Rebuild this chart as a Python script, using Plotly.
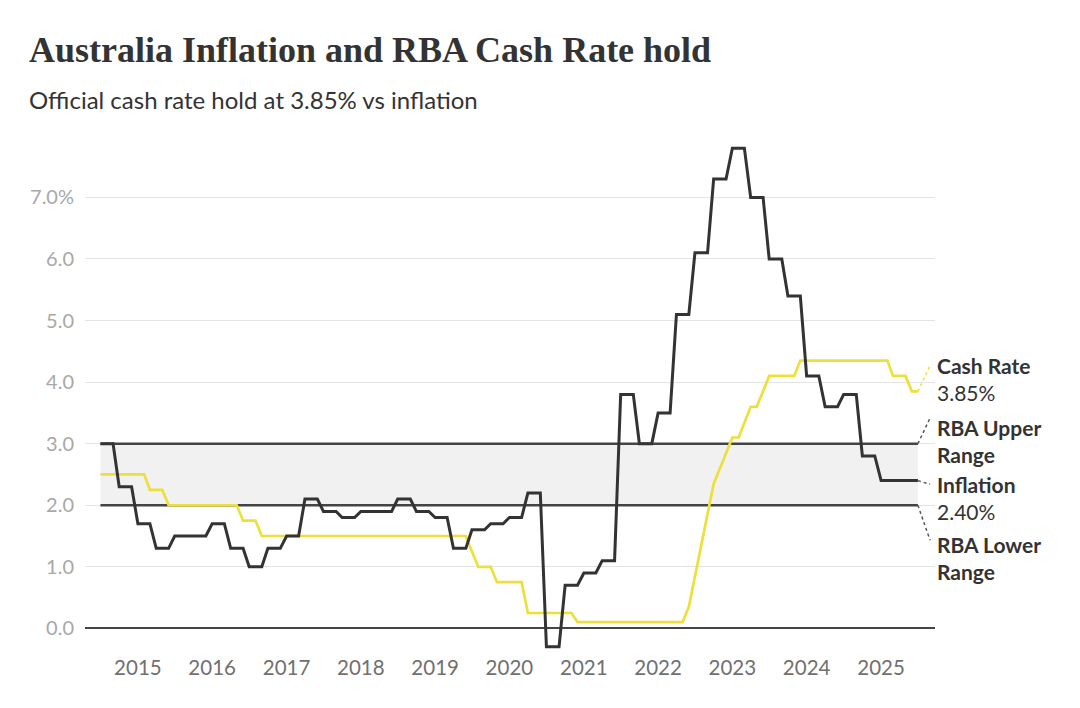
import pandas as pd
import plotly.graph_objects as go

# ---- data -------------------------------------------------------------
months = pd.date_range("2014-07-01", "2025-07-01", freq="MS")

inflation = [
    3.0, 3.0, 3.0, 2.3, 2.3, 2.3,                                   # 2014 Jul-Dec
    1.7, 1.7, 1.7, 1.3, 1.3, 1.3, 1.5, 1.5, 1.5, 1.5, 1.5, 1.5,     # 2015
    1.7, 1.7, 1.7, 1.3, 1.3, 1.3, 1.0, 1.0, 1.0, 1.3, 1.3, 1.3,     # 2016
    1.5, 1.5, 1.5, 2.1, 2.1, 2.1, 1.9, 1.9, 1.9, 1.8, 1.8, 1.8,     # 2017
    1.9, 1.9, 1.9, 1.9, 1.9, 1.9, 2.1, 2.1, 2.1, 1.9, 1.9, 1.9,     # 2018
    1.8, 1.8, 1.8, 1.3, 1.3, 1.3, 1.6, 1.6, 1.6, 1.7, 1.7, 1.7,     # 2019
    1.8, 1.8, 1.8, 2.2, 2.2, 2.2, -0.3, -0.3, -0.3, 0.7, 0.7, 0.7,  # 2020
    0.9, 0.9, 0.9, 1.1, 1.1, 1.1, 3.8, 3.8, 3.8, 3.0, 3.0, 3.0,     # 2021
    3.5, 3.5, 3.5, 5.1, 5.1, 5.1, 6.1, 6.1, 6.1, 7.3, 7.3, 7.3,     # 2022
    7.8, 7.8, 7.8, 7.0, 7.0, 7.0, 6.0, 6.0, 6.0, 5.4, 5.4, 5.4,     # 2023
    4.1, 4.1, 4.1, 3.6, 3.6, 3.6, 3.8, 3.8, 3.8, 2.8, 2.8, 2.8,     # 2024
    2.4, 2.4, 2.4, 2.4, 2.4, 2.4, 2.4,                              # 2025 Jan-Jul
]

cash_rate = [
    2.5, 2.5, 2.5, 2.5, 2.5, 2.5,                                               # 2014 Jul-Dec
    2.5, 2.5, 2.25, 2.25, 2.25, 2.0, 2.0, 2.0, 2.0, 2.0, 2.0, 2.0,              # 2015
    2.0, 2.0, 2.0, 2.0, 2.0, 1.75, 1.75, 1.75, 1.5, 1.5, 1.5, 1.5,              # 2016
    1.5, 1.5, 1.5, 1.5, 1.5, 1.5, 1.5, 1.5, 1.5, 1.5, 1.5, 1.5,                 # 2017
    1.5, 1.5, 1.5, 1.5, 1.5, 1.5, 1.5, 1.5, 1.5, 1.5, 1.5, 1.5,                 # 2018
    1.5, 1.5, 1.5, 1.5, 1.5, 1.5, 1.25, 1.0, 1.0, 1.0, 0.75, 0.75,              # 2019
    0.75, 0.75, 0.75, 0.25, 0.25, 0.25, 0.25, 0.25, 0.25, 0.25, 0.25, 0.1,      # 2020
    0.1, 0.1, 0.1, 0.1, 0.1, 0.1, 0.1, 0.1, 0.1, 0.1, 0.1, 0.1,                 # 2021
    0.1, 0.1, 0.1, 0.1, 0.1, 0.35, 0.85, 1.35, 1.85, 2.35, 2.6, 2.85,           # 2022
    3.1, 3.1, 3.35, 3.6, 3.6, 3.85, 4.1, 4.1, 4.1, 4.1, 4.1, 4.35,              # 2023
    4.35, 4.35, 4.35, 4.35, 4.35, 4.35, 4.35, 4.35, 4.35, 4.35, 4.35, 4.35,     # 2024
    4.35, 4.35, 4.1, 4.1, 4.1, 3.85, 3.85,                                      # 2025 Jan-Jul
]

rba_lower = 2.0
rba_upper = 3.0

year_ticks = [f"{y}-01-01" for y in range(2015, 2026)]
year_labels = [str(y) for y in range(2015, 2026)]
y_ticks = [0, 1, 2, 3, 4, 5, 6, 7]
y_labels = ["0.0", "1.0", "2.0", "3.0", "4.0", "5.0", "6.0", "7.0%"]

# ---- styling ----------------------------------------------------------
DARK = "#333333"
YELLOW = "#EEE03A"
FONT = "Lato"

fig = go.Figure()

band_x = [months[0], months[-1]]
fig.add_trace(go.Scatter(x=band_x, y=[rba_lower] * 2, mode="lines",
                         line=dict(color="#444444", width=2.5), hoverinfo="skip"))
fig.add_trace(go.Scatter(x=band_x, y=[rba_upper] * 2, mode="lines",
                         line=dict(color="#444444", width=2.5),
                         fill="tonexty", fillcolor="#F1F1F1", hoverinfo="skip"))
fig.add_trace(go.Scatter(x=months, y=cash_rate, mode="lines",
                         line=dict(color=YELLOW, width=2.7), name="Cash Rate"))
fig.add_trace(go.Scatter(x=months, y=inflation, mode="lines",
                         line=dict(color=DARK, width=3), name="Inflation"))

# leader lines
end = months[-1]
lead_end = "2025-08-30"
leaders = [
    (cash_rate[-1], 4.27, YELLOW),
    (rba_upper, 3.42, "#555555"),
    (inflation[-1], 2.34, "#555555"),
    (rba_lower, 1.43, "#555555"),
]
for y0, y1, c in leaders:
    fig.add_shape(type="line", x0=end, x1=lead_end, y0=y0, y1=y1,
                  xref="x", yref="y", line=dict(color=c, width=1.5, dash="dot"))

labels = [
    ("<b>Cash Rate</b><br>3.85%", 4.05),
    ("<b>RBA Upper</b><br><b>Range</b>", 3.05),
    ("<b>Inflation</b><br>2.40%", 2.12),
    ("<b>RBA Lower</b><br><b>Range</b>", 1.14),
]
for txt, yv in labels:
    fig.add_annotation(text=txt, xref="paper", x=1.0, yref="y", y=yv,
                       xanchor="left", yanchor="middle", align="left",
                       showarrow=False,
                       font=dict(family=FONT, size=21, color=DARK))

# title and subtitle
fig.add_annotation(text="<b>Australia Inflation and RBA Cash Rate hold</b>",
                   xref="paper", yref="paper", x=-0.0682, y=1.181,
                   xanchor="left", yanchor="middle", showarrow=False,
                   font=dict(family="Liberation Serif", size=36, color=DARK))
fig.add_annotation(text="Official cash rate hold at 3.85% vs inflation",
                   xref="paper", yref="paper", x=-0.0682, y=1.083,
                   xanchor="left", yanchor="middle", showarrow=False,
                   font=dict(family=FONT, size=24, color=DARK))

fig.update_layout(
    width=1080, height=708,
    margin=dict(l=85, r=145, t=141.6, b=55.4),
    plot_bgcolor="white", paper_bgcolor="white",
    showlegend=False,
    font=dict(family=FONT),
    xaxis=dict(range=["2014-04-16", "2025-09-23"], tickvals=year_ticks,
               ticktext=year_labels, showgrid=False, zeroline=False,
               showline=False, ticks="",
               tickfont=dict(family=FONT, size=20.5, color="#707070")),
    yaxis=dict(range=[-0.4, 7.9], tickvals=y_ticks, ticktext=y_labels,
               showgrid=True, gridcolor="#E4E4E4", gridwidth=1,
               zeroline=True, zerolinecolor="#444444", zerolinewidth=2,
               showline=False, ticks="", ticklabelstandoff=10,
               tickfont=dict(family=FONT, size=20, color="#A8A8A8")),
)

fig.write_html("out.html")
